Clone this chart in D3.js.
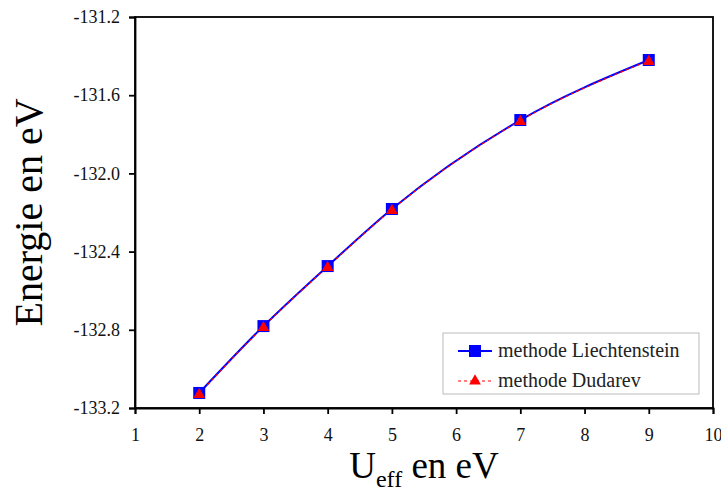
<!DOCTYPE html>
<html lang="fr">
  <head>
  <meta charset="utf-8">
  <title>Energie vs Ueff</title>
    <style>
      body { margin: 0; background: #fff; }
      .axis path, .axis line { stroke: #000; stroke-width: 1.8px; }
    </style>
  </head>
  <body>
<div id="my_dataviz"></div>
    <script src="https://d3js.org/d3.v7.min.js"></script>
    <script>
    // data
    var ueff = [2, 3, 4, 5, 7, 9];
    var liechtenstein = [-133.123, -132.781, -132.474, -132.182, -131.727, -131.420];
    var dudarev = [-133.126, -132.784, -132.477, -132.185, -131.730, -131.423];
    var xTicks = [1, 2, 3, 4, 5, 6, 7, 8, 9, 10];
    var yTicks = [-133.2, -132.8, -132.4, -132.0, -131.6, -131.2];

    var width = 721, height = 503;
    var margin = {left: 135, right: 8, top: 17, bottom: 95};
    var serif = "'Liberation Serif', 'DejaVu Serif', serif";

    var svg = d3.select("#my_dataviz")
        .append("svg")
        .attr("width", width)
        .attr("height", height);

    var x = d3.scaleLinear().domain([1, 10]).range([margin.left, width - margin.right]);
    var y = d3.scaleLinear().domain([-133.2, -131.2]).range([height - margin.bottom, margin.top]);

    // frame
    svg.append("rect")
        .attr("x", x(1)).attr("y", y(-131.2))
        .attr("width", x(10) - x(1)).attr("height", y(-133.2) - y(-131.2))
        .attr("fill", "none").attr("stroke", "#000").attr("stroke-width", 1.8);

    var xAxis = svg.append("g")
        .attr("class", "axis")
        .attr("transform", "translate(0," + y(-133.2) + ")")
        .call(d3.axisBottom(x).tickValues(xTicks).tickFormat(d3.format("d")).tickSize(6).tickPadding(14));

    var yAxis = svg.append("g")
        .attr("class", "axis")
        .attr("transform", "translate(" + x(1) + ",0)")
        .call(d3.axisLeft(y).tickValues(yTicks)
            .tickFormat(function(d){ return d.toFixed(1); })
            .tickSize(6).tickPadding(9));

    [xAxis, yAxis].forEach(function(a){
      a.selectAll(".tick text")
        .style("font-family", serif)
        .style("font-size", "18px")
        .attr("fill", "#111");
    });

    // axis titles
    svg.append("text")
        .attr("transform", "translate(42," + ((y(-131.2) + y(-133.2)) / 2) + ") rotate(-90)")
        .attr("text-anchor", "middle")
        .style("font-family", serif)
        .style("font-size", "40px")
        .text("Energie en eV");

    var xt = svg.append("text")
        .attr("x", (x(1) + x(10)) / 2)
        .attr("y", 478)
        .attr("text-anchor", "middle")
        .style("font-family", serif)
        .style("font-size", "37px");
    xt.append("tspan").text("U");
    xt.append("tspan").attr("dy", 9).style("font-size", "24px").text("eff");
    xt.append("tspan").attr("dy", -9).text(" en eV");

    var line = d3.line()
        .x(function(d){ return x(d[0]); })
        .y(function(d){ return y(d[1]); })
        .curve(d3.curveMonotoneX);

    var s1 = ueff.map(function(u, i){ return [u, liechtenstein[i]]; });
    var s2 = ueff.map(function(u, i){ return [u, dudarev[i]]; });

    svg.append("path")
        .datum(s1)
        .attr("d", line)
        .attr("fill", "none")
        .attr("stroke", "#0000ff")
        .attr("stroke-width", 2);

    svg.append("path")
        .datum(s2)
        .attr("d", line)
        .attr("fill", "none")
        .attr("stroke", "#ff0000")
        .attr("stroke-width", 1.2)
        .attr("stroke-dasharray", "3,3");

    var sq = 12;
    svg.append("g").selectAll("rect")
        .data(s1)
        .enter().append("rect")
          .attr("x", function(d){ return x(d[0]) - sq / 2; })
          .attr("y", function(d){ return y(d[1]) - sq / 2; })
          .attr("width", sq).attr("height", sq)
          .attr("fill", "#0000ff");

    var tri = d3.symbol().type(d3.symbolTriangle).size(60);
    svg.append("g").selectAll("path")
        .data(s2)
        .enter().append("path")
          .attr("d", tri)
          .attr("transform", function(d){ return "translate(" + x(d[0]) + "," + (y(d[1]) + 1) + ")"; })
          .attr("fill", "#ff0000");

    // legend
    var lg = svg.append("g").attr("transform", "translate(443,333)");
    lg.append("rect")
        .attr("width", 256).attr("height", 61)
        .attr("fill", "#fff").attr("stroke", "#bbb").attr("stroke-width", 1);

    lg.append("line").attr("x1", 15).attr("x2", 49).attr("y1", 18).attr("y2", 18)
        .attr("stroke", "#0000ff").attr("stroke-width", 2);
    lg.append("rect").attr("x", 32 - 6).attr("y", 12).attr("width", 12).attr("height", 12).attr("fill", "#0000ff");
    lg.append("text").attr("x", 55).attr("y", 24).style("font-family", serif)
        .style("font-size", "20px").attr("fill", "#222")
        .text("methode Liechtenstein");

    lg.append("line").attr("x1", 15).attr("x2", 49).attr("y1", 48).attr("y2", 48)
        .attr("stroke", "#ff0000").attr("stroke-width", 1.2).attr("stroke-dasharray", "3,3");
    lg.append("path").attr("d", tri).attr("transform", "translate(32,48)").attr("fill", "#ff0000");
    lg.append("text").attr("x", 55).attr("y", 54).style("font-family", serif)
        .style("font-size", "20px").attr("fill", "#222")
        .text("methode Dudarev");
    </script>
  </body>
</html>
